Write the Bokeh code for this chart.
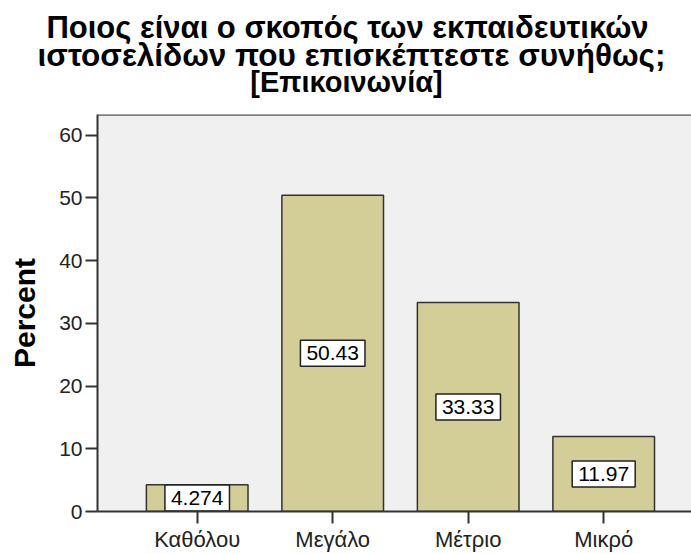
from bokeh.plotting import figure
from bokeh.layouts import column
from bokeh.models import Range1d, FixedTicker, Span, ColumnDataSource
from bokeh.embed import file_html
from bokeh.resources import INLINE
from bokeh.core.properties import value

title_lines = ["Ποιος είναι ο σκοπός των εκπαιδευτικών",
               "ιστοσελίδων που επισκέπτεστε συνήθως;",
               "[Επικοινωνία]"]
categories = ["Καθόλου", "Μεγάλο", "Μέτριο", "Μικρό"]
percent = [4.274, 50.43, 33.33, 11.97]
y_ticks = [0, 10, 20, 30, 40, 50, 60]
y_label = "Percent"

FONT = "Liberation Sans"
W = 691
TH = 100          # title area height
H = 554 - TH      # chart area height
Y_MAX = 63.3

# ---- title block (its own small figure, text only) ----
tfig = figure(width=W, height=TH, output_backend="svg", toolbar_location=None,
              title=None, x_axis_type=None, y_axis_type=None,
              x_range=Range1d(0, W), y_range=Range1d(TH, 0),
              min_border=0)
tfig.outline_line_color = None
tfig.background_fill_color = "white"
tfig.border_fill_color = "white"
tfig.grid.visible = False
tsrc = ColumnDataSource(dict(x=[347, 351, 346], y=[26.5, 54, 81.5],
                             t=title_lines,
                             fs=["31px", "31.5px", "29px"]))
tfig.text(x="x", y="y", text="t", source=tsrc, text_align="center",
          text_baseline="alphabetic", text_font=value(FONT),
          text_font_style="bold", text_font_size="fs", text_color="black")

# ---- chart ----
xs = list(range(len(categories)))
src = ColumnDataSource(dict(
    x=xs,
    top=percent,
    mid=[v / 2 for v in percent],
    lab=[f"{v:.4g}" for v in percent],
))

p = figure(width=W, height=H, output_backend="svg", toolbar_location=None,
           title=None,
           x_range=Range1d(-0.7358, 3.648), y_range=Range1d(0, Y_MAX),
           min_border_left=97, min_border_right=0, min_border_top=14,
           min_border_bottom=40)
p.background_fill_color = "#f0f0f0"
p.border_fill_color = "white"
p.outline_line_color = None
p.grid.visible = False

for fig in (tfig, p):
    if "frame_align" in fig.properties():
        fig.frame_align = False

p.vbar(x="x", top="top", width=0.75, source=src, fill_color="#d3ce97",
       line_color="#333333", line_width=1.5)
p.text(x="x", y="mid", text="lab", source=src, text_align="center",
       text_baseline="middle", text_font=value(FONT), text_font_size="21px",
       text_color="black", background_fill_color="white",
       border_line_color="#222222", border_line_width=1.5, padding=6)

p.add_layout(Span(location=Y_MAX, dimension="width", line_color="#555555",
                  line_width=2.5))

for ax in (p.xaxis, p.yaxis):
    ax.axis_line_color = "#333333"
    ax.axis_line_width = 2
    ax.major_tick_line_color = "#333333"
    ax.major_tick_line_width = 2
    ax.major_tick_in = 0
    ax.major_tick_out = 12
    ax.minor_tick_line_color = None
    ax.major_label_text_font = FONT
    ax.major_label_text_color = "#222222"

p.xaxis.ticker = FixedTicker(ticks=xs)
p.xaxis.major_label_overrides = {i: c for i, c in zip(xs, categories)}
p.xaxis.major_label_text_font_size = "22px"
p.xaxis.major_label_standoff = 3

p.yaxis.ticker = FixedTicker(ticks=y_ticks)
p.yaxis.major_label_text_font_size = "21px"
p.yaxis.major_label_standoff = 3
p.yaxis.axis_label = y_label
p.yaxis.axis_label_text_font = FONT
p.yaxis.axis_label_text_font_style = "bold"
p.yaxis.axis_label_text_font_size = "30px"
p.yaxis.axis_label_text_color = "black"
p.yaxis.axis_label_standoff = 15

layout = column(tfig, p, spacing=0)
open("out.html", "w").write(file_html(layout, INLINE))
